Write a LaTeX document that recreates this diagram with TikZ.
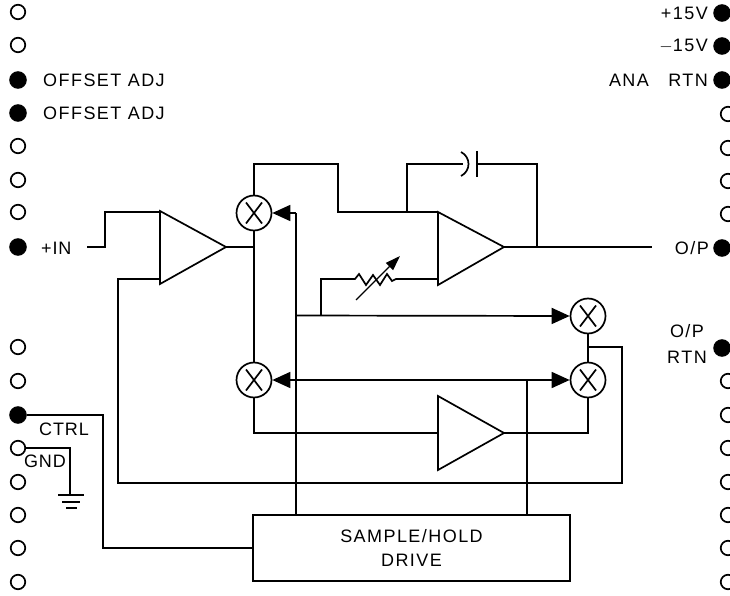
\documentclass[tikz,border=0pt]{standalone}
\usepackage{fontspec}
\setmainfont{Liberation Sans}
\usetikzlibrary{arrows.meta}
\newfontfamily\lblfont[LetterSpace=8]{Liberation Sans}
\newfontfamily\smallfont[LetterSpace=5]{Liberation Sans}
\tikzset{
  wire/.style={line width=1.7pt,line join=miter},
  openpin/.style={circle,draw=black,line width=1.7pt,fill=white,minimum size=14.5pt,inner sep=0pt},
  fillpin/.style={circle,draw=black,line width=1pt,fill=black,minimum size=16.5pt,inner sep=0pt},
  mixer/.style={circle,draw=black,line width=1.7pt,fill=white,minimum size=35pt,inner sep=0pt,
    path picture={\draw[line width=1.7pt] ([shift={(-8pt,-10.5pt)}]path picture bounding box.center) -- ([shift={(8pt,10.5pt)}]path picture bounding box.center)
      ([shift={(-8pt,10.5pt)}]path picture bounding box.center) -- ([shift={(8pt,-10.5pt)}]path picture bounding box.center);}},
  amp/.style={draw=black,line width=1.7pt,line join=miter,fill=white},
  lbl/.style={font=\fontsize{18}{20}\selectfont\lblfont,inner sep=0pt,text=black},
  lblsmall/.style={font=\fontsize{18}{20}\selectfont\smallfont,inner sep=0pt,text=black},
  tip/.style={-{Triangle[length=18pt,width=16pt]}},
  tips/.style={{Triangle[length=18pt,width=16pt]}-{Triangle[length=18pt,width=16pt]}},
}
\begin{document}
\begin{tikzpicture}[x=1pt,y=-1pt]
\useasboundingbox (0,0) rectangle (730,596);
\fill[white] (0,0) rectangle (730,596);
% left pins
\foreach \n/\y in {l1/12,l2/45,l5/146,l6/180,l7/212,l9/347,l10/381,l12/448,l13/482,l14/515,l15/548,l16/582}
  \node[openpin] (\n) at (18,\y) {};
\foreach \n/\y in {l3/80,l4/113,l8/247,l11/415}
  \node[fillpin] (\n) at (18,\y) {};
% right pins
\foreach \n/\y in {r4/114,r5/148,r6/181,r7/214,r10/381,r11/415,r12/448,r13/482,r14/515,r15/548,r16/582}
  \node[openpin] (\n) at (728,\y) {};
\foreach \n/\x/\y in {r1/722/13,r2/722/46,r3/722/80,r8/722/248,r9/722/348}
  \node[fillpin] (\n) at (\x,\y) {};
% labels
\node[lbl,anchor=west] (t1) at (43,80) {OFFSET ADJ};
\node[lbl,anchor=west] (t2) at (43,113) {OFFSET ADJ};
\node[lblsmall,anchor=west] (t3) at (41,248) {+IN};
\node[lbl,anchor=east] (t4) at (708,13) {+15V};
\node[lbl,anchor=east] (t5) at (708,46) {$-$15V};
\node[lbl,anchor=east] (t6) at (708,80) {ANA\ \ \ RTN};
\node[lbl,anchor=east] (t7) at (709,248) {O/P};
\node[lbl,anchor=center] (t8) at (687,331) {O/P};
\node[lbl,anchor=center] (t9) at (687,357) {RTN};
\node[lblsmall,anchor=center] (t10) at (64,429) {CTRL};
\node[lblsmall,anchor=center] (t11) at (45,461) {GND};
% mixers
\node[mixer] (x1) at (254,213) {};
\node[mixer] (x2) at (254,380) {};
\node[mixer] (x3) at (588,316) {};
\node[mixer] (x4) at (588,380) {};
% amplifiers
\coordinate (a1t) at (160,212); \coordinate (a1b) at (160,279); \coordinate (a1o) at (226,247);
\coordinate (a2t) at (438,212); \coordinate (a2b) at (438,279); \coordinate (a2o) at (504,247);
\coordinate (a3i) at (438,433); \coordinate (a3o) at (504,433);
\draw[amp] (160,211) -- (160,284) -- (a1o) -- cycle;
\draw[amp] (438,212) -- (438,285) -- (a2o) -- cycle;
\draw[amp] (438,396) -- (438,470) -- (a3o) -- cycle;
% box
\node[draw=black,line width=1.7pt,minimum width=317pt,minimum height=66pt,inner sep=0pt,align=center,font=\fontsize{18}{24}\selectfont\lblfont] (sh) at (411.5,548) {SAMPLE/HOLD\\DRIVE};
% junctions and free ends
\coordinate (inS) at (87,247);
\coordinate (j1) at (254,247);
\coordinate (cL) at (463,164);
\coordinate (cR) at (477,164);
\coordinate (j2) at (407,212);
\coordinate (j3) at (537,247);
\coordinate (out) at (652,247);
\coordinate (j4) at (321,315.5);
\coordinate (j5) at (296,315.5);
\coordinate (j6) at (527,380);
\coordinate (j7) at (588,347);
% connectors
\draw[wire] (inS) -- (105,247) -- (105,212) -- (a1t);
\draw[wire] (a1o) -- (j1);
\draw[wire] (x1) -- (x2);
\draw[wire] (x1.north) -- (254,164) -- (338,164) -- (338,212) -- (a2t);
\draw[wire] (j2) -- (407,164) -- (cL);
\draw[wire] (461,152) .. controls (471,157) and (471,171) .. (461,176);
\draw[wire] (cR) ++(0,-13) -- +(0,26);
\draw[wire] (cR) -- (537,164) -- (j3);
\draw[wire] (a2o) -- (out);
\draw[wire] (a2b) -- (396,279) -- (392,281) -- (387,274) -- (380,285) -- (373,275) -- (366,285) -- (359,274) -- (355,279) -- (321,279) -- (j4);
\draw[wire,line width=1.4pt,-{Triangle[length=15pt,width=10pt]}] (356,300) -- (400,256);
\draw[wire] (sh.north -| j5) -- (296,213);
\draw[wire,tip] (296,213) -- (x1.east);
\draw[wire,tip] (j5) -- (x3.west);
\draw[wire,tips] (x2.east) -- (x4.west);
\draw[wire] (j6) -- (sh.north -| j6);
\draw[wire] (x2.south) -- (254,433) -- (a3i);
\draw[wire] (a3o) -- (588,433) -- (x4.south);
\draw[wire] (x3) -- (x4);
\draw[wire] (j7) -- (622,347) -- (622,483) -- (118,483) -- (118,279) -- (a1b);
\draw[wire] (l11) -- (103,415) -- (103,548) -- (sh.west);
\draw[wire] (l12) -- (70,448) -- (70,495);
\draw[wire] (58,495) -- (84,495) (62,502) -- (80,502) (66,508) -- (77,508);
\end{tikzpicture}
\end{document}
